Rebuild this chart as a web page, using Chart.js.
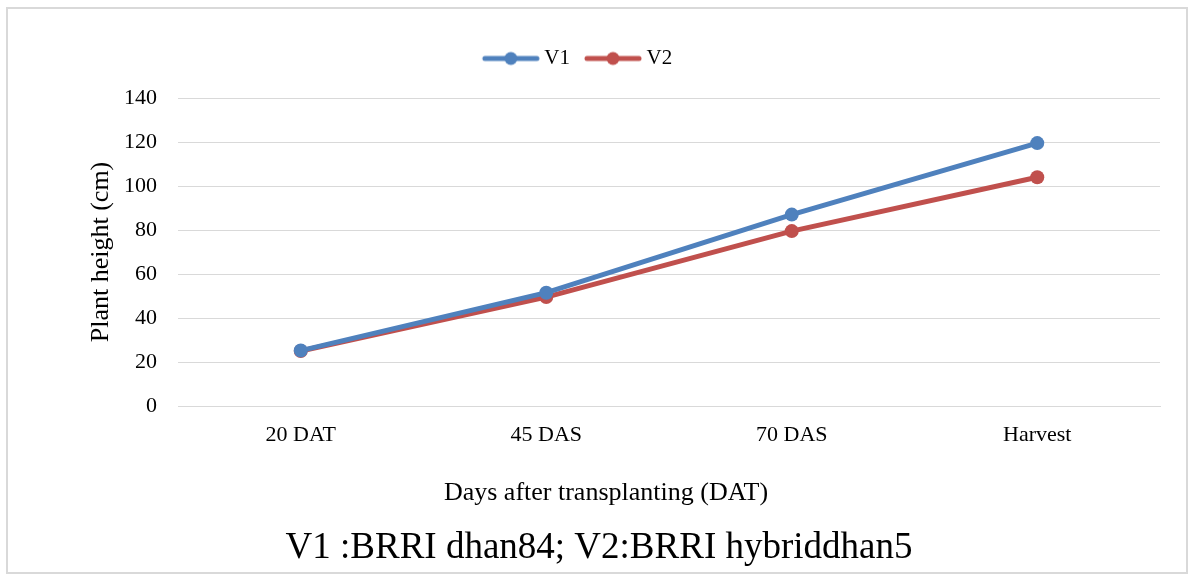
<!DOCTYPE html>
<html>
<head>
<meta charset="utf-8">
<script src="https://cdn.jsdelivr.net/npm/chart.js@4.4.1/dist/chart.umd.min.js"></script>
<style>
    html, body { margin: 0; padding: 0; background: #fff; }
    #wrap { position: relative; width: 1193px; height: 579px; }
    #frame { position: absolute; left: 6px; top: 7px; width: 1178px; height: 563px; border: 2px solid #d9d9d9; pointer-events: none; }
</style>
</head>
<body>
<div id="wrap">
    <canvas id="myChart" width="1193" height="579"></canvas>
    <div id="frame"></div>
</div>
<script>
const stages = ["20 DAT", "45 DAS", "70 DAS", "Harvest"];
const v1Height = [25.2, 51.5, 87, 119.5];
const v2Height = [25, 49.5, 79.5, 104];
const yTicks = [0, 20, 40, 60, 80, 100, 120, 140];

const blue = "#4f81bd";
const red = "#c0504d";
const serif = "'Liberation Serif', 'Times New Roman', serif";

// legend marker: short line with a dot in the middle
let legendMarker = (color) => {
    const c = document.createElement("canvas");
    c.width = 60;
    c.height = 16;
    const g = c.getContext("2d");
    g.strokeStyle = color;
    g.lineWidth = 5;
    g.lineCap = "round";
    g.beginPath();
    g.moveTo(4, 8);
    g.lineTo(56, 8);
    g.stroke();
    g.fillStyle = color;
    g.beginPath();
    g.arc(30, 8, 6.5, 0, Math.PI * 2);
    g.fill();
    return c;
};

// small layout tweaks so the text sits where Excel put it
const layoutTweaks = {
    id: "layoutTweaks",
    beforeLayout(chart) {
        const lg = chart.legend;
        if (lg && !lg._gapPatched) {
            const fit = lg.fit;
            lg.fit = function () {
                fit.call(this);
                this.height += 19;
            };
            lg._gapPatched = true;
        }
    },
    afterLayout(chart) {
        // bottom title is centred on the whole frame, not the plot
        const t = chart.titleBlock;
        if (t) {
            t.left += 19;
            t.right += 19;
        }
        // x axis title sits left of the plot centre
        const xs = chart.scales.x;
        if (xs && !xs._titlePatched) {
            const drawTitle = xs.drawTitle;
            xs.drawTitle = function () {
                const c = this.ctx;
                c.save();
                c.translate(-63, 0);
                drawTitle.apply(this, arguments);
                c.restore();
            };
            xs._titlePatched = true;
        }
    }
};

const ctx = document.getElementById("myChart");

new Chart(ctx, {
    type: "line",
    data: {
        labels: stages,
        datasets: [
            {
                label: "V1",
                data: v1Height,
                borderColor: blue,
                backgroundColor: blue,
                borderWidth: 5,
                pointRadius: 7,
                pointBorderWidth: 0,
                tension: 0
            },
            {
                label: "V2",
                data: v2Height,
                borderColor: red,
                backgroundColor: red,
                borderWidth: 5,
                pointRadius: 7,
                pointBorderWidth: 0,
                tension: 0
            }
        ]
    },
    options: {
        responsive: false,
        animation: false,
        layout: {
            padding: { top: 28, left: 0, right: 33, bottom: 0 }
        },
        scales: {
            x: {
                offset: true,
                grid: { display: false, drawTicks: false },
                border: { color: "#d9d9d9", width: 1 },
                ticks: {
                    color: "#000",
                    font: { family: serif, size: 22 },
                    padding: 16
                },
                title: {
                    display: true,
                    text: "Days after transplanting (DAT)",
                    color: "#000",
                    font: { family: serif, size: 26 },
                    padding: { top: 13, bottom: 17 }
                }
            },
            y: {
                min: 0,
                max: 140,
                afterBuildTicks: (axis) => {
                    axis.ticks = yTicks.map(v => ({ value: v }));
                },
                afterFit: (axis) => {
                    axis.width = 178;
                },
                grid: { color: "#d9d9d9", lineWidth: 1, drawTicks: false },
                border: { display: false },
                ticks: {
                    color: "#000",
                    font: { family: serif, size: 22 },
                    padding: 21
                },
                title: {
                    display: true,
                    text: "Plant height (cm)",
                    color: "#000",
                    font: { family: serif, size: 26 },
                    padding: { top: 86, bottom: 0 }
                }
            }
        },
        plugins: {
            legend: {
                position: "top",
                labels: {
                    usePointStyle: true,
                    pointStyleWidth: 46,
                    color: "#000",
                    font: { family: serif, size: 21 },
                    padding: 20,
                    generateLabels: (chart) => chart.data.datasets.map((ds, i) => ({
                        text: ds.label,
                        pointStyle: legendMarker(ds.borderColor),
                        fillStyle: ds.borderColor,
                        strokeStyle: ds.borderColor,
                        lineWidth: 0,
                        datasetIndex: i
                    }))
                }
            },
            title: {
                display: true,
                position: "bottom",
                text: "V1 :BRRI dhan84; V2:BRRI hybriddhan5",
                color: "#000",
                font: { family: serif, size: 37, weight: "normal" },
                padding: { top: 0, bottom: 9 }
            },
            tooltip: { enabled: false }
        }
    },
    plugins: [layoutTweaks]
});
</script>
</body>
</html>
